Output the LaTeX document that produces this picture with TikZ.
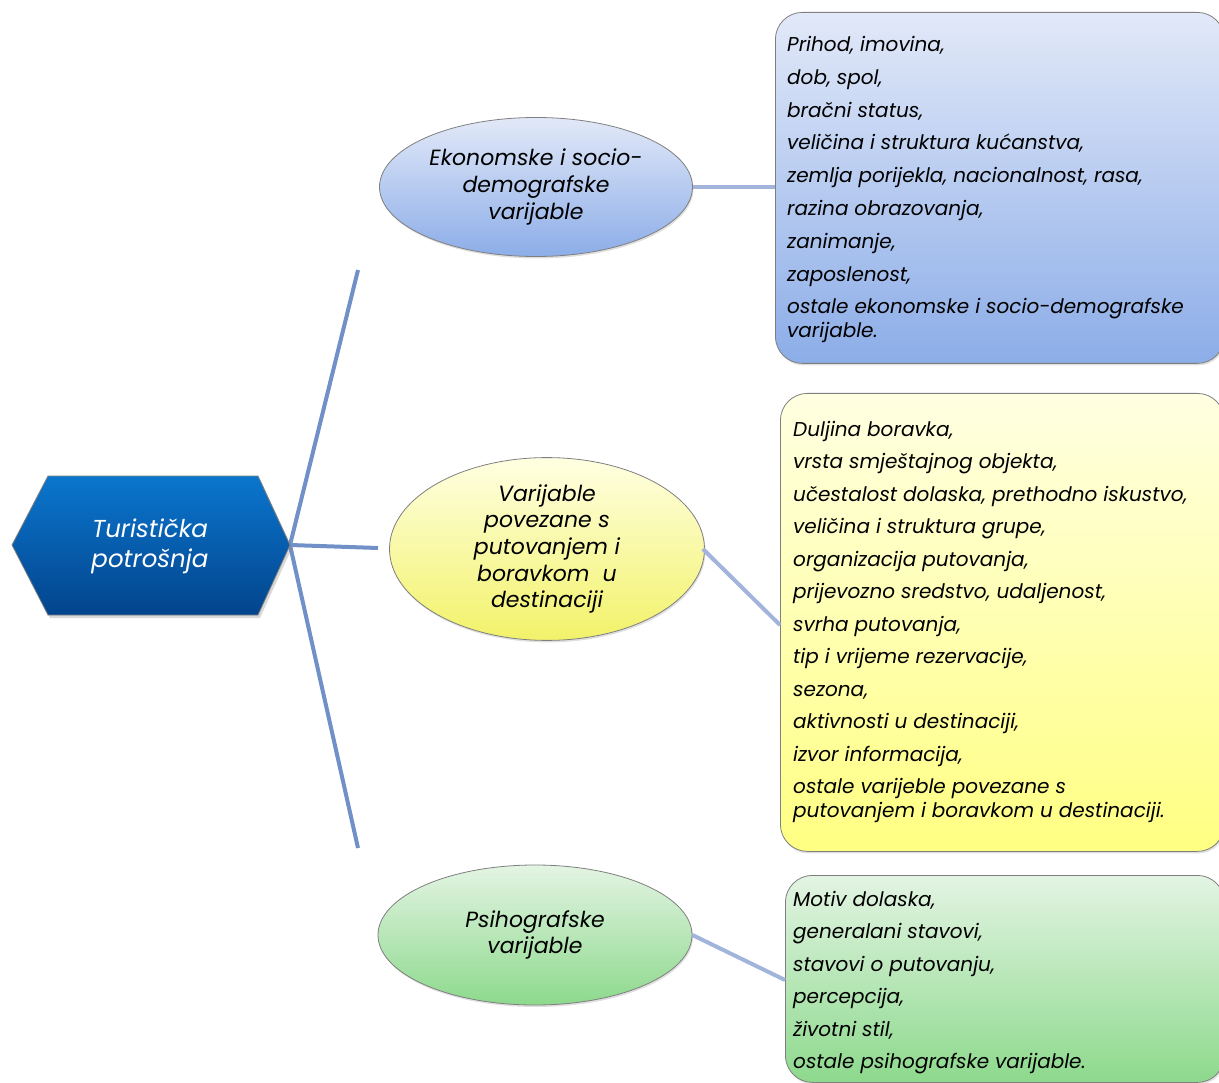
\documentclass[tikz,border=0pt]{standalone}
\usepackage{fontspec}
\setmainfont{Poppins}
\usetikzlibrary{shapes.geometric,shadows}
\definecolor{hexT}{HTML}{0A76CE}
\definecolor{hexB}{HTML}{03448C}
\definecolor{mainln}{HTML}{7190C8}
\definecolor{subln}{HTML}{A2B4DC}
\definecolor{bluT}{HTML}{E2E9F8}
\definecolor{bluB}{HTML}{8CADE8}
\definecolor{yelT}{HTML}{FFFFE2}
\definecolor{yelB}{HTML}{F2F26A}
\definecolor{yelBox}{HTML}{FFFF82}
\definecolor{grnT}{HTML}{E3F4E3}
\definecolor{grnB}{HTML}{8DD98D}
\definecolor{edge}{HTML}{7F7F7F}
\tikzset{
  oval/.style={ellipse, draw=edge, line width=0.8pt, minimum width=313pt, minimum height=139pt,
    align=center, font=\itshape\fontsize{22}{26.7}\selectfont, inner sep=0pt,
    drop shadow={shadow xshift=1pt, shadow yshift=-2pt, opacity=0.25}},
  listbox/.style={draw=edge, line width=0.8pt, rounded corners=27pt,
    drop shadow={shadow xshift=1pt, shadow yshift=-2pt, opacity=0.25}},
  listtext/.style={anchor=north west, align=left, inner sep=0pt,
    font=\itshape\fontsize{20}{23.5}\selectfont},
  mainconn/.style={draw=mainln, line width=4pt},
  subconn/.style={draw=subln, line width=4pt}
}
\begin{document}
\begin{tikzpicture}[x=1pt,y=-1pt]
\useasboundingbox (0,0) rectangle (1219,1083);
% connectors from hexagon
\coordinate (hexR) at (290,545);
\coordinate (topEnd) at (358,270);
\coordinate (midEnd) at (378,548);
\coordinate (botEnd) at (358,848);
\draw[mainconn] (hexR) -- (topEnd);
\draw[mainconn] (hexR) -- (midEnd);
\draw[mainconn] (hexR) -- (botEnd);
% hexagon
\path[draw=edge, line width=0.8pt, top color=hexT, bottom color=hexB,
  drop shadow={shadow xshift=2pt, shadow yshift=-3pt, opacity=0.3}]
  (12,545) -- (48,476) -- (258,476) -- (290,545) -- (258,615) -- (48,615) -- cycle;
\node[text=white, align=center, font=\itshape\fontsize{24.5}{30}\selectfont] (hex) at (150,546) {Turistička\\potrošnja};
% boxes
\node[listbox, top color=bluT, bottom color=bluB, minimum width=449pt, minimum height=351pt, anchor=north west, inner sep=0pt] (box1) at (775,12) {};
\node[listbox, top color=yelT, bottom color=yelBox, minimum width=444pt, minimum height=458pt, anchor=north west, inner sep=0pt] (box2) at (780,393) {};
\node[listbox, top color=grnT, bottom color=grnB, minimum width=439pt, minimum height=207pt, anchor=north west, inner sep=0pt] (box3) at (785,875) {};
% ellipses
\node[oval, top color=bluT, bottom color=bluB] (e1) at (536,187) {Ekonomske i socio-\\demografske\\varijable};
\node[oval, top color=yelT, bottom color=yelB, minimum width=315pt, minimum height=150pt] (e2) at (547,549) {Varijable\\povezane s\\putovanjem i\\boravkom\ \ u\\destinaciji};
\node[oval, top color=grnT, bottom color=grnB, minimum width=314pt, minimum height=140pt] (e3) at (535,935) {Psihografske\\varijable};
% sub connectors
\draw[subconn] (e1.east) -- (box1.west |- e1.east);
\draw[subconn] (e2.east) ++(-2,0) coordinate (e2c) -- (780,625) coordinate (b2c);
\draw[subconn] (e3.east) -- (785,980) coordinate (b3c);
% list texts
\node[listtext] (t1) at (787,36) {Prihod, imovina,\\[9.3pt]dob, spol,\\[9.3pt]bračni status,\\[9.3pt]veličina i struktura kućanstva,\\[9.3pt]zemlja porijekla, nacionalnost, rasa,\\[9.3pt]razina obrazovanja,\\[9.3pt]zanimanje,\\[9.3pt]zaposlenost,\\[9.3pt]ostale ekonomske i socio-demografske\\varijable.};
\node[listtext] (t2) at (793,421) {Duljina boravka,\\[9pt]vrsta smještajnog objekta,\\[9pt]učestalost dolaska, prethodno iskustvo,\\[9pt]veličina i struktura grupe,\\[9pt]organizacija putovanja,\\[9pt]prijevozno sredstvo, udaljenost,\\[9pt]svrha putovanja,\\[9pt]tip i vrijeme rezervacije,\\[9pt]sezona,\\[9pt]aktivnosti u destinaciji,\\[9pt]izvor informacija,\\[9pt]ostale varijeble povezane s\\putovanjem i boravkom u destinaciji.};
\node[listtext] (t3) at (793,891) {Motiv dolaska,\\[9pt]generalani stavovi,\\[9pt]stavovi o putovanju,\\[9pt]percepcija,\\[9pt]životni stil,\\[9pt]ostale psihografske varijable.};
\end{tikzpicture}
\end{document}
